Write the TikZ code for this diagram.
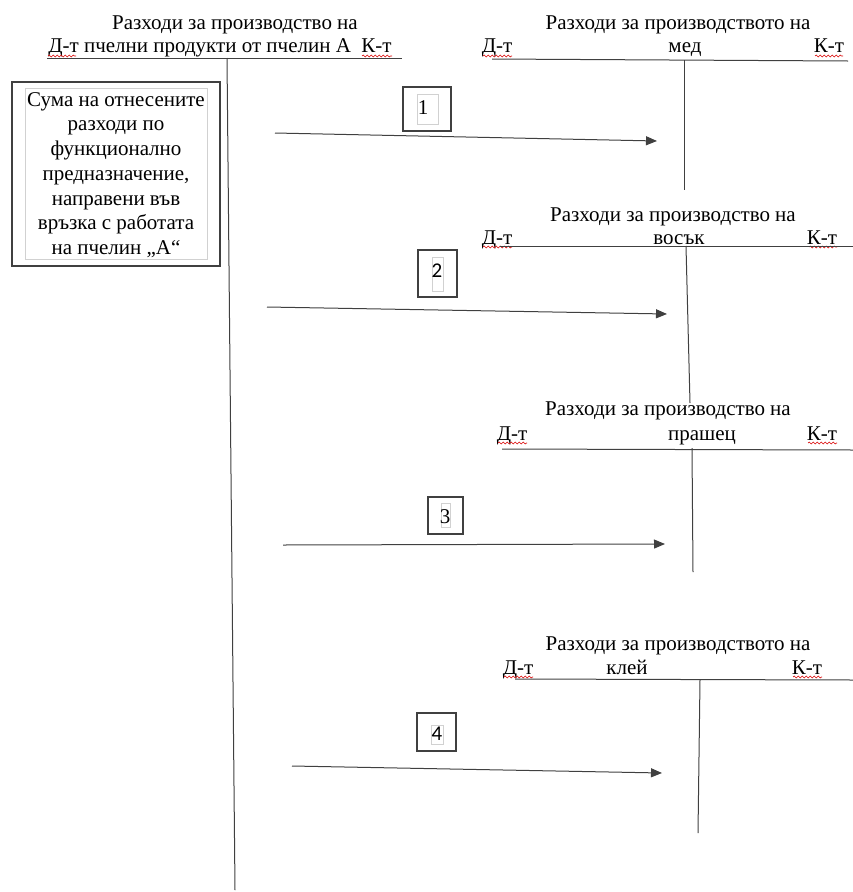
\documentclass[tikz,border=0pt]{standalone}
\usepackage{fontspec}
\setmainfont{Liberation Serif}
\newfontfamily\calib{Carlito}
\usetikzlibrary{arrows.meta,decorations.pathmorphing}
\begin{document}
\begin{tikzpicture}[x=1pt,y=-1pt,
  txt/.style={inner sep=0pt,anchor=base,font=\fontsize{21}{24}\selectfont},
  acc/.style={draw=black!75,line width=1pt},
  flow/.style={draw=black!75,line width=1pt,-{Triangle[length=11pt,width=9pt]}},
  outerbox/.style={draw=black!75,line width=1.4pt},
  innerbox/.style={draw=black!18,line width=0.8pt},
  wavy/.style={draw=red!85!black,line width=0.6pt,decorate,decoration={snake,amplitude=0.9pt,segment length=4pt}}]
\useasboundingbox (0,0) rectangle (853,892);
% ---------- main account
\node[txt] (mt1) at (235,29) {Разходи за производство на};
\node[txt] (mt2) at (220,52) {Д-т пчелни продукти от пчелин А\ \ К-т};
\coordinate (mL) at (47,58); \coordinate (mR) at (402,58);
\coordinate (mV) at (227,58); \coordinate (mB) at (235,890);
\draw[acc] (mL) -- (mR);
\draw[acc] (mV) -- (mB);
\draw[wavy] (48,56) -- (76,56);
\draw[wavy] (362,56) -- (392,56);
% ---------- left box
\draw[outerbox] (12,82) rectangle (220,266);
\draw[innerbox] (25,88) rectangle (207,259);
\node[inner sep=0pt,align=center,font=\fontsize{21}{24.7}\selectfont] (lbox) at (116,175)
  {Сума на отнесените\\разходи по\\функционално\\предназначение,\\направени във\\връзка с работата\\на пчелин „А“};
% ---------- мед
\node[txt] (a1) at (678,29) {Разходи за производството на};
\node[txt] (a1d) at (497,52) {Д-т};
\node[txt] (a1n) at (685,52) {мед};
\node[txt] (a1k) at (829,52) {К-т};
\draw[wavy] (483,56) -- (512,56);
\draw[wavy] (815,56) -- (843,56);
\coordinate (a1L) at (492,59); \coordinate (a1R) at (848,61);
\coordinate (a1V) at (684,60); \coordinate (a1B) at (684,190);
\draw[acc] (a1L) -- (a1R);
\draw[acc] (a1V) -- (a1B);
% ---------- восък
\node[txt] (a2) at (673,221) {Разходи за производство на};
\node[txt] (a2d) at (497,244) {Д-т};
\node[txt] (a2n) at (679,244) {восък};
\node[txt] (a2k) at (822,244) {К-т};
\draw[wavy] (483,247) -- (512,247);
\draw[wavy] (809,247) -- (837,247);
\coordinate (a2L) at (500,246); \coordinate (a2R) at (853,246);
\coordinate (a2V) at (686,246); \coordinate (a2B) at (690,403);
\draw[acc] (a2L) -- (a2R);
\draw[acc] (a2V) -- (a2B);
% ---------- прашец
\node[txt] (a3) at (668,415) {Разходи за производство на};
\node[txt] (a3d) at (512,440) {Д-т};
\node[txt] (a3n) at (702,440) {прашец};
\node[txt] (a3k) at (822,440) {К-т};
\draw[wavy] (498,443) -- (527,443);
\draw[wavy] (808,443) -- (837,443);
\coordinate (a3L) at (502,449); \coordinate (a3R) at (853,450);
\coordinate (a3V) at (692,448); \coordinate (a3B) at (693,572);
\draw[acc] (a3L) -- (a3R);
\draw[acc] (a3V) -- (a3B);
% ---------- клей
\node[txt] (a4) at (678,650) {Разходи за производството на};
\node[txt] (a4d) at (518,674) {Д-т};
\node[txt] (a4n) at (627,674) {клей};
\node[txt] (a4k) at (807,674) {К-т};
\draw[wavy] (504,677) -- (533,677);
\draw[wavy] (793,677) -- (822,677);
\coordinate (a4L) at (515,679); \coordinate (a4R) at (853,680);
\coordinate (a4V) at (700,680); \coordinate (a4B) at (698,833);
\draw[acc] (a4L) -- (a4R);
\draw[acc] (a4V) -- (a4B);
% ---------- numbered boxes
\draw[outerbox] (403,87) rectangle (451,131);
\draw[innerbox] (417,94) rectangle (438,124);
\node[txt] (n1) at (423,114) {1};
\draw[outerbox] (418,250) rectangle (457,297);
\draw[innerbox] (432,257) rectangle (443,291);
\node[txt,font=\calib\fontsize{21}{24}\selectfont] (n2) at (437,277) {2};
\draw[outerbox] (428,497) rectangle (463,534);
\draw[innerbox] (441,503) rectangle (450,527);
\node[txt] (n3) at (445,523) {3};
\draw[outerbox] (417,713) rectangle (456,751);
\draw[innerbox] (431,725) rectangle (443,744);
\node[txt,font=\calib\fontsize{21}{24}\selectfont] (n4) at (437,740) {4};
% ---------- flows
\coordinate (f1s) at (275,133); \coordinate (f1e) at (657,141);
\coordinate (f2s) at (267,307); \coordinate (f2e) at (667,314);
\coordinate (f3s) at (283,545); \coordinate (f3e) at (665,544);
\coordinate (f4s) at (292,766); \coordinate (f4e) at (662,773);
\draw[flow] (f1s) -- (f1e);
\draw[flow] (f2s) -- (f2e);
\draw[flow] (f3s) -- (f3e);
\draw[flow] (f4s) -- (f4e);
\end{tikzpicture}
\end{document}
